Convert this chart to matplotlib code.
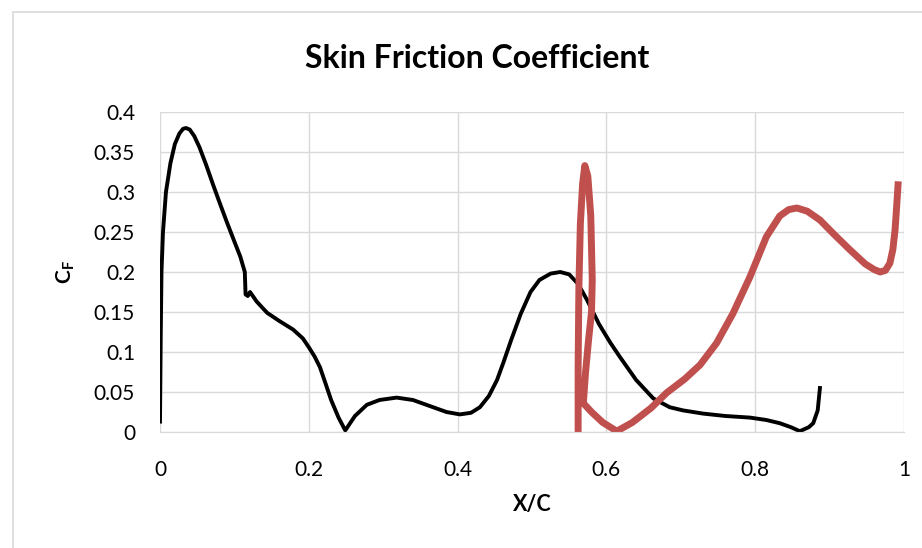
import matplotlib
matplotlib.use('Agg')
import matplotlib.pyplot as plt
from matplotlib.patches import Rectangle

# black curve (first element)
x_black = [0.000, 0.001, 0.002, 0.004, 0.008, 0.014, 0.020, 0.026, 0.031, 0.035,
           0.040, 0.046, 0.053, 0.062, 0.071, 0.080, 0.090, 0.100, 0.108, 0.114,
           0.115, 0.118, 0.121, 0.130, 0.144, 0.160, 0.179, 0.192, 0.200, 0.208,
           0.215, 0.222, 0.230, 0.240, 0.249, 0.262, 0.278, 0.295, 0.318, 0.340,
           0.367, 0.385, 0.403, 0.418, 0.430, 0.442, 0.453, 0.462, 0.472, 0.485,
           0.498, 0.510, 0.525, 0.538, 0.550, 0.562, 0.574, 0.590, 0.605, 0.618,
           0.640, 0.663, 0.685, 0.703, 0.730, 0.760, 0.793, 0.815, 0.833, 0.848,
           0.860, 0.872, 0.878, 0.884, 0.887]
y_black = [0.013, 0.120, 0.200, 0.250, 0.300, 0.336, 0.360, 0.373, 0.379, 0.380,
           0.378, 0.370, 0.356, 0.334, 0.310, 0.287, 0.262, 0.238, 0.219, 0.200,
           0.172, 0.170, 0.175, 0.163, 0.149, 0.139, 0.128, 0.117, 0.106, 0.094,
           0.081, 0.062, 0.040, 0.018, 0.002, 0.020, 0.034, 0.040, 0.043, 0.040,
           0.031, 0.025, 0.022, 0.024, 0.031, 0.045, 0.065, 0.088, 0.115, 0.148,
           0.175, 0.190, 0.198, 0.200, 0.197, 0.185, 0.165, 0.135, 0.112, 0.094,
           0.065, 0.042, 0.031, 0.027, 0.023, 0.020, 0.018, 0.015, 0.011, 0.006,
           0.001, 0.006, 0.011, 0.027, 0.055]

# red curve (second element)
x_red = [0.562, 0.562, 0.563, 0.565, 0.568, 0.571, 0.575, 0.579, 0.581, 0.580,
         0.576, 0.572, 0.569, 0.580, 0.595, 0.614, 0.635, 0.660, 0.681, 0.705,
         0.726, 0.748, 0.770, 0.793, 0.815, 0.833, 0.845, 0.856, 0.870, 0.887,
         0.905, 0.927, 0.948, 0.960, 0.968, 0.975, 0.981, 0.985, 0.988, 0.990,
         0.992]
y_red = [0.000, 0.080, 0.180, 0.260, 0.310, 0.333, 0.320, 0.270, 0.190, 0.150,
         0.115, 0.075, 0.036, 0.025, 0.012, 0.001, 0.012, 0.030, 0.049, 0.066,
         0.084, 0.111, 0.148, 0.194, 0.244, 0.270, 0.278, 0.280, 0.276, 0.265,
         0.248, 0.228, 0.210, 0.203, 0.200, 0.202, 0.211, 0.228, 0.253, 0.280,
         0.309]

x_ticks = [0, 0.2, 0.4, 0.6, 0.8, 1]
x_tick_labels = ['0', '0.2', '0.4', '0.6', '0.8', '1']
y_ticks = [0, 0.05, 0.1, 0.15, 0.2, 0.25, 0.3, 0.35, 0.4]
y_tick_labels = ['0', '0.05', '0.1', '0.15', '0.2', '0.25', '0.3', '0.35', '0.4']

plt.rcParams['font.family'] = ['Lato', 'DejaVu Sans']
plt.rcParams['mathtext.fontset'] = 'custom'
plt.rcParams['mathtext.bf'] = 'Lato:bold'
plt.rcParams['mathtext.rm'] = 'Lato'

W, H = 922, 548
fig = plt.figure(figsize=(W / 100, H / 100), dpi=100)
ax = fig.add_axes([160 / W, 1 - 432 / H, 744 / W, 320 / H])

# chart outer border (only left and top edges fall inside the picture)
fig.patches.append(Rectangle((13 / W, -0.1), 1.2, 1.1 - 12 / H, transform=fig.transFigure,
                             fill=False, edgecolor='#D9D9D9', linewidth=1.2))

ax.plot(x_black, y_black, color='black', linewidth=2.8, solid_joinstyle='round')
ax.plot(x_red, y_red, color='#C0504D', linewidth=5, solid_joinstyle='round')

ax.set_xlim(0, 1)
ax.set_ylim(0, 0.4)
ax.set_xticks(x_ticks)
ax.set_xticklabels(x_tick_labels)
ax.set_yticks(y_ticks)
ax.set_yticklabels(y_tick_labels)
ax.grid(True, color='#D9D9D9', linewidth=1)
ax.set_axisbelow(True)
for s in ['top', 'right', 'left']:
    ax.spines[s].set_visible(False)
ax.spines['bottom'].set_color('#D9D9D9')
ax.tick_params(length=0, labelsize=15, colors='black')
ax.tick_params(axis='x', pad=20)
ax.tick_params(axis='y', pad=18)

ax.set_xlabel('X/C', fontsize=15.5, fontweight='bold', labelpad=10)
ax.set_ylabel(r'$\mathbf{C_F}$', fontsize=15, labelpad=12)
fig.text(477 / W, 1 - 58 / H, 'Skin Friction Coefficient', ha='center', va='center',
         fontsize=23, fontweight='bold')

fig.savefig('out.png', dpi=100)
